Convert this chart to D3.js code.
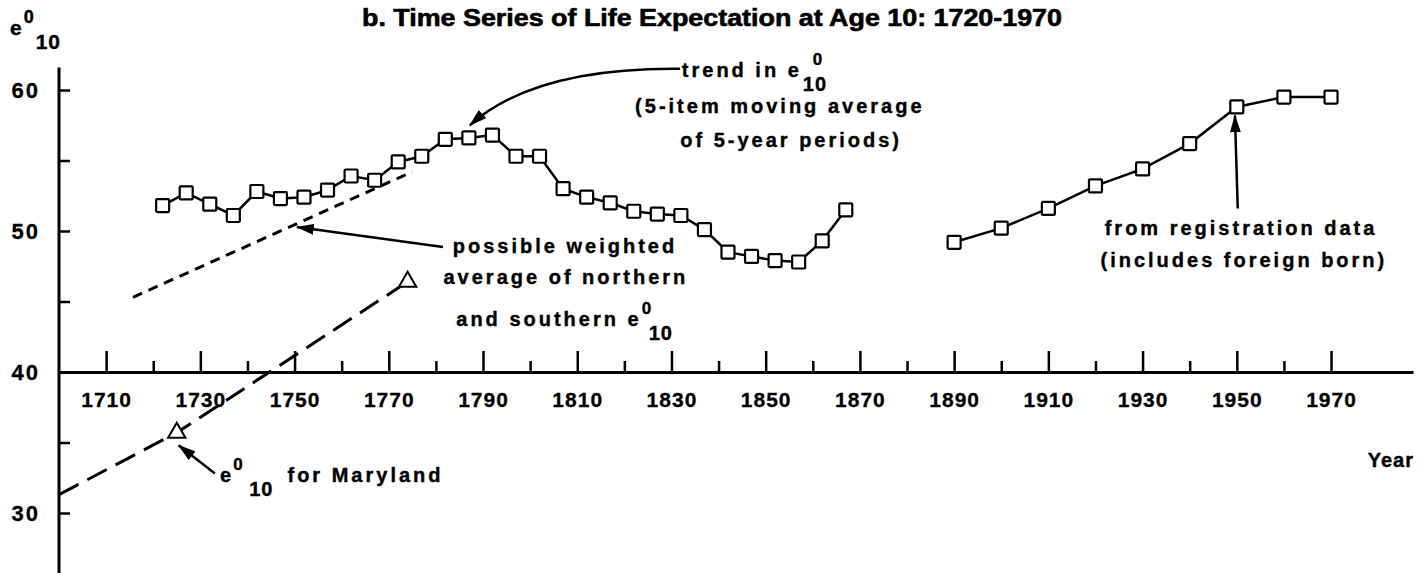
<!DOCTYPE html>
<html>
<head>
<meta charset="utf-8">
<script src="https://cdn.jsdelivr.net/npm/d3@7"></script>
<style>
  html, body { margin: 0; padding: 0; background: #fff; }
  svg { display: block; font-family: "Liberation Sans", Arial, sans-serif; }
  .ann { font-size: 20px; font-weight: bold; letter-spacing: 3px; fill: #000; stroke: #000; stroke-width: 0.4px; }
  .tick text { font-size: 21px; font-weight: bold; letter-spacing: 1px; fill: #000; stroke: #000; stroke-width: 0.3px; font-family: "Liberation Sans", Arial, sans-serif; }
</style>
</head>
<body>
<svg id="chart" width="1427" height="573"></svg>
<script>
// trend: 5-item moving average of 5-year periods
const trendYears = [1722, 1727, 1732, 1737, 1742, 1747, 1752, 1757, 1762, 1767,
  1772, 1777, 1782, 1787, 1792, 1797, 1802, 1807, 1812, 1817,
  1822, 1827, 1832, 1837, 1842, 1847, 1852, 1857, 1862, 1867];
const trendValues = [51.8, 52.7, 51.9, 51.1, 52.8, 52.3, 52.4, 52.9, 53.9, 53.6,
  54.9, 55.3, 56.5, 56.6, 56.8, 55.3, 55.3, 53.0, 52.4, 52.0,
  51.4, 51.2, 51.1, 50.1, 48.5, 48.2, 47.9, 47.8, 49.3, 51.5];

// registration data
const regYears = [1890, 1900, 1910, 1920, 1930, 1940, 1950, 1960, 1970];
const regValues = [49.2, 50.2, 51.6, 53.2, 54.4, 56.2, 58.8, 59.5, 59.5];

// possible weighted average of north and south (short dashes)
const weightedYears = [1715.7, 1775];
const weightedValues = [45.3, 54.2];

// Maryland (long dashes + triangles)
const mdLineYears = [1700, 1725, 1774];
const mdLineValues = [31.3, 35.7, 46.4];
const mdPointYears = [1725, 1774];
const mdPointValues = [35.7, 46.4];

// axes
const yTickValues = [30, 35, 40, 45, 50, 55, 60];
const yLabelled = [30, 40, 50, 60];
const xMajorTicks = [1710, 1730, 1750, 1770, 1790, 1810, 1830, 1850, 1870, 1890, 1910, 1930, 1950, 1970];
const xMinorTicks = [1720, 1740, 1760, 1780, 1800, 1820, 1840, 1860, 1880, 1900, 1920, 1940, 1960];

const titleText = "b. Time Series of Life Expectation at Age 10: 1720-1970";

// annotation anchors in data units (year, value)
const noteLines = [
  { text: "(5-item moving average", year: 1853.0, value: 58.37 },
  { text: "of 5-year periods)", year: 1855.4, value: 55.96 },
  { text: "possible weighted", year: 1807.4, value: 48.44 },
  { text: "average of northern", year: 1807.6, value: 46.24 },
  { text: "from registration data", year: 1950.9, value: 49.72 },
  { text: "(includes foreign born)", year: 1951.5, value: 47.45 }
];
const trendArrow = [[1831.8, 61.5], [1801, 61.6], [1787.2, 57.5]];
const weightedArrow = [[1781.5, 48.87], [1750.5, 50.28]];
const regArrow = [[1950.2, 51.6], [1949.6, 58.2]];
const mdArrow = [[1733.1, 32.8], [1725.4, 34.8]];

const svg = d3.select("#chart");

const x = d3.scaleLinear().domain([1700, 1987.4]).range([59, 1413]);
const y = d3.scaleLinear().domain([30, 60]).range([513, 90]);
const yAxisTop = 61.6;
const yAxisBottom = 25.7;

svg.append("defs").append("marker")
  .attr("id", "arrow")
  .attr("viewBox", "0 0 18 11")
  .attr("refX", 17)
  .attr("refY", 5.5)
  .attr("markerWidth", 18)
  .attr("markerHeight", 11)
  .attr("markerUnits", "userSpaceOnUse")
  .attr("orient", "auto")
  .append("path")
  .attr("d", "M0,0 L18,5.5 L0,11 Z")
  .attr("fill", "#000");

// title
svg.append("text")
  .attr("x", 712)
  .attr("y", 26)
  .attr("text-anchor", "middle")
  .attr("textLength", 700)
  .attr("lengthAdjust", "spacingAndGlyphs")
  .style("font-size", "23px")
  .style("font-weight", "bold")
  .style("stroke", "#000")
  .style("stroke-width", "0.6px")
  .text(titleText);

// y axis
svg.append("line")
  .attr("x1", x(1700)).attr("x2", x(1700))
  .attr("y1", y(yAxisTop)).attr("y2", y(yAxisBottom))
  .attr("stroke", "#000").attr("stroke-width", 3);

const yAxis = svg.append("g")
  .attr("transform", `translate(${x(1700)},0)`)
  .call(d3.axisLeft(y)
    .tickValues(yTickValues)
    .tickSizeInner(-11)
    .tickSizeOuter(0)
    .tickPadding(19)
    .tickFormat(d => yLabelled.includes(d) ? d : ""));
yAxis.select(".domain").remove();
yAxis.selectAll(".tick line").attr("stroke-width", 2.5);
yAxis.selectAll(".tick text").style("font-size", "22px").style("letter-spacing", "2px");

// x axis at 40
const xAxis = svg.append("g")
  .attr("transform", `translate(0,${y(40)})`)
  .call(d3.axisBottom(x)
    .tickValues(xMajorTicks)
    .tickSizeInner(-21)
    .tickSizeOuter(0)
    .tickPadding(20)
    .tickFormat(d3.format("d")));
xAxis.select(".domain").attr("stroke-width", 3);
xAxis.selectAll(".tick line").attr("stroke-width", 2.5);

const xMinor = svg.append("g")
  .attr("transform", `translate(0,${y(40)})`)
  .call(d3.axisBottom(x)
    .tickValues(xMinorTicks)
    .tickSizeInner(-11)
    .tickSizeOuter(0)
    .tickFormat(""));
xMinor.select(".domain").remove();
xMinor.selectAll(".tick line").attr("stroke-width", 2.5);

// "e" with superscript 0 and subscript 10
function addE(px, py, anchor, before, size, supDx, subDx) {
  const t = svg.append("text")
    .attr("class", "ann")
    .attr("x", px).attr("y", py)
    .attr("text-anchor", anchor)
    .style("font-size", size + "px")
    .text(before + "e");
  const box = t.node().getBBox();
  const ex = box.x + box.width - 3;
  svg.append("text")
    .attr("class", "ann")
    .attr("x", ex + supDx).attr("y", py - 12)
    .style("font-size", (size - 3) + "px")
    .style("letter-spacing", "0px")
    .text("0");
  const sub = svg.append("text")
    .attr("class", "ann")
    .attr("x", ex + subDx).attr("y", py + 14)
    .style("font-size", size + "px")
    .style("letter-spacing", "1px")
    .text("10");
  const sb = sub.node().getBBox();
  return sb.x + sb.width;
}

addE(10, 35, "start", "", 21, 2, 14);

svg.append("text")
  .attr("class", "ann")
  .attr("x", 1414).attr("y", 467)
  .attr("text-anchor", "end")
  .style("letter-spacing", "1px")
  .text("Year");

// lines
const line = d3.line().x(d => x(d[0])).y(d => y(d[1]));

svg.append("path")
  .datum(d3.zip(weightedYears, weightedValues))
  .attr("d", line)
  .attr("fill", "none").attr("stroke", "#000")
  .attr("stroke-width", 3).attr("stroke-dasharray", "10,7");

svg.append("path")
  .datum(d3.zip(mdLineYears, mdLineValues))
  .attr("d", line)
  .attr("fill", "none").attr("stroke", "#000")
  .attr("stroke-width", 3).attr("stroke-dasharray", "22,10");

const trendData = d3.zip(trendYears, trendValues);
const regData = d3.zip(regYears, regValues);

[trendData, regData].forEach(data => {
  svg.append("path")
    .datum(data)
    .attr("d", line)
    .attr("fill", "none").attr("stroke", "#000")
    .attr("stroke-width", 2.5);

  svg.append("g")
    .selectAll("rect")
    .data(data)
    .join("rect")
    .attr("x", d => x(d[0]) - 6.5)
    .attr("y", d => y(d[1]) - 6.5)
    .attr("width", 13)
    .attr("height", 13)
    .attr("rx", 1)
    .attr("fill", "#fff")
    .attr("stroke", "#000")
    .attr("stroke-width", 2.2);
});

svg.append("g")
  .selectAll("path")
  .data(d3.zip(mdPointYears, mdPointValues))
  .join("path")
  .attr("transform", d => `translate(${x(d[0])},${y(d[1])})`)
  .attr("d", d3.symbol(d3.symbolTriangle, 130))
  .attr("fill", "#fff")
  .attr("stroke", "#000")
  .attr("stroke-width", 2);

// annotations
svg.append("g")
  .selectAll("text")
  .data(noteLines)
  .join("text")
  .attr("class", "ann")
  .attr("x", d => x(d.year))
  .attr("y", d => y(d.value))
  .attr("text-anchor", "middle")
  .text(d => d.text);

addE(x(1832.2), y(60.92), "start", "trend in ", 20, 14, 4);
addE(x(1804.0), y(43.26), "middle", "and southern ", 20, 3, 10);
const mdEnd = addE(x(1734.2), y(32.2), "start", "", 20, 2, 18);
svg.append("text")
  .attr("class", "ann")
  .attr("x", mdEnd + 14)
  .attr("y", y(32.2))
  .text("for Maryland");

const tp = d3.path();
tp.moveTo(x(trendArrow[0][0]), y(trendArrow[0][1]));
tp.quadraticCurveTo(x(trendArrow[1][0]), y(trendArrow[1][1]), x(trendArrow[2][0]), y(trendArrow[2][1]));
svg.append("path")
  .attr("d", tp.toString())
  .attr("fill", "none").attr("stroke", "#000")
  .attr("stroke-width", 2.5)
  .attr("marker-end", "url(#arrow)");

[weightedArrow, regArrow, mdArrow].forEach(a => {
  svg.append("path")
    .datum(a)
    .attr("d", line)
    .attr("fill", "none").attr("stroke", "#000")
    .attr("stroke-width", 2.5)
    .attr("marker-end", "url(#arrow)");
});
</script>
</body>
</html>
